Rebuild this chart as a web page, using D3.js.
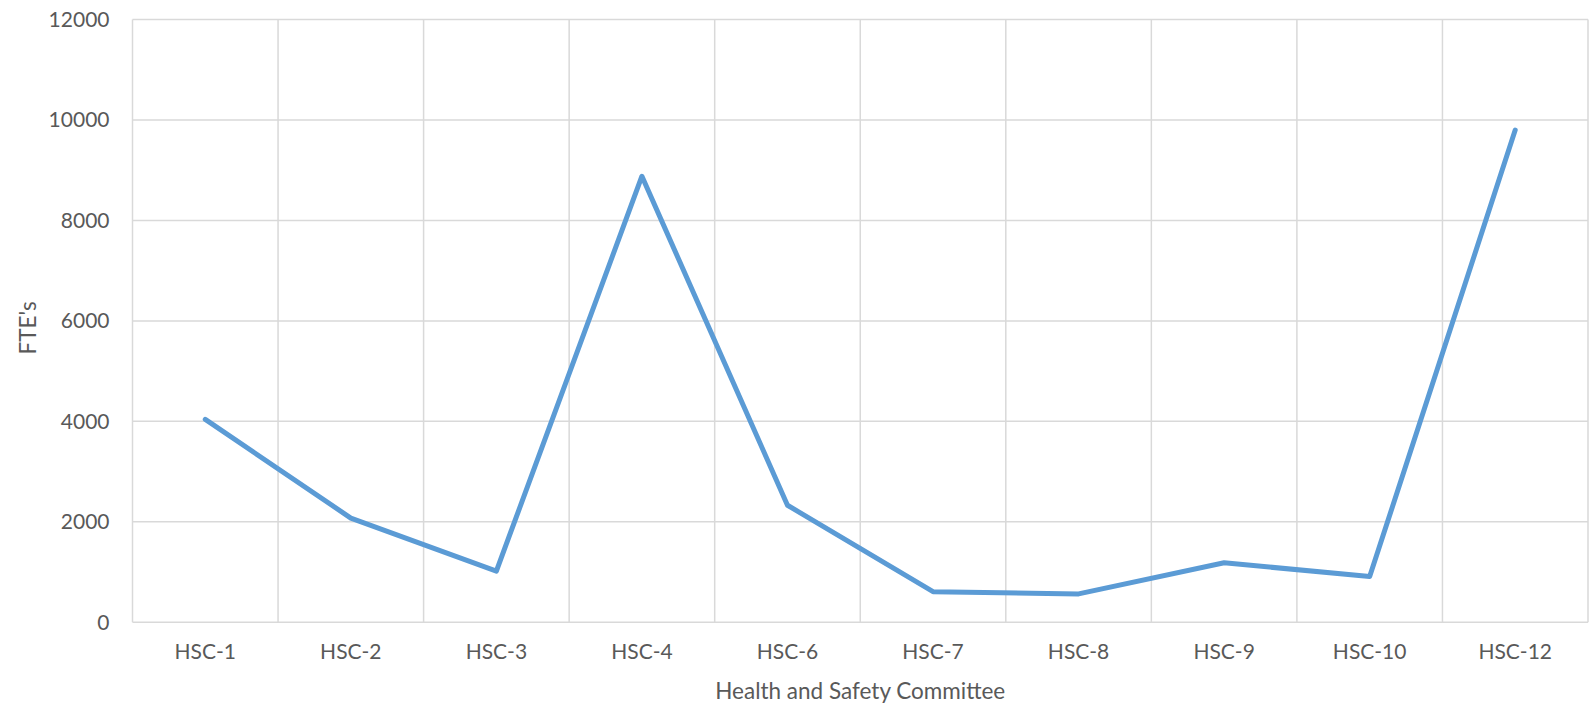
<!DOCTYPE html>
<html>
<head>
<meta charset="utf-8">
<script src="https://cdn.jsdelivr.net/npm/d3@7"></script>
<style>
  html, body { margin: 0; padding: 0; background: #fff; }
  svg text { font-family: "Lato", "Open Sans", sans-serif; fill: #595959; }
</style>
</head>
<body>
<svg id="chart" width="1593" height="708"></svg>
<script>
const categories = ["HSC-1", "HSC-2", "HSC-3", "HSC-4", "HSC-6", "HSC-7", "HSC-8", "HSC-9", "HSC-10", "HSC-12"];
const fteValues = [4040, 2075, 1020, 8880, 2330, 610, 565, 1185, 910, 9800];
const yTicks = [0, 2000, 4000, 6000, 8000, 10000, 12000];
const xTitle = "Health and Safety Committee";
const yTitle = "FTE's";

const svg = d3.select("#chart");
const margin = { left: 132.5, right: 1593 - 1588, top: 19.5, bottom: 708 - 622.3 };
const W = 1593, H = 708;

const x = d3.scaleBand().domain(categories).range([margin.left, W - margin.right]).padding(0);
const y = d3.scaleLinear().domain([0, 12000]).range([H - margin.bottom, margin.top]);

const grid = "#d9d9d9";

// horizontal gridlines
svg.append("g").selectAll("line").data(yTicks).join("line")
  .attr("x1", margin.left).attr("x2", W - margin.right)
  .attr("y1", d => y(d)).attr("y2", d => y(d))
  .attr("stroke", grid).attr("stroke-width", 1.5);

// vertical gridlines at category boundaries
const bounds = categories.map(c => x(c)).concat([x(categories[categories.length - 1]) + x.bandwidth()]);
svg.append("g").selectAll("line").data(bounds).join("line")
  .attr("x1", d => d).attr("x2", d => d)
  .attr("y1", margin.top).attr("y2", y(0))
  .attr("stroke", grid).attr("stroke-width", 1.5);

// y axis labels
const yAxis = d3.axisLeft(y).tickValues(yTicks).tickSize(0).tickPadding(23).tickFormat(d3.format("d"));
const gy = svg.append("g").attr("transform", `translate(${margin.left},0)`).call(yAxis);
gy.select(".domain").remove();
gy.selectAll("text").style("font-size", "21px").attr("fill", "#595959");

// x axis labels
const xAxis = d3.axisBottom(x).tickSize(0).tickPadding(22);
const gx = svg.append("g").attr("transform", `translate(0,${y(0)})`).call(xAxis);
gx.select(".domain").remove();
gx.selectAll("text").style("font-size", "21px").attr("fill", "#595959");

// line
const line = d3.line()
  .x((d, i) => x(categories[i]) + x.bandwidth() / 2)
  .y(d => y(d));
svg.append("path").datum(fteValues)
  .attr("d", line)
  .attr("fill", "none")
  .attr("stroke", "#5b9bd5")
  .attr("stroke-width", 5)
  .attr("stroke-linejoin", "round")
  .attr("stroke-linecap", "round");

// titles
svg.append("text")
  .attr("x", (margin.left + W - margin.right) / 2)
  .attr("y", 699)
  .attr("text-anchor", "middle")
  .style("font-size", "22.5px")
  .text(xTitle);

svg.append("text")
  .attr("transform", `translate(36,${(margin.top + y(0)) / 2 + 7}) rotate(-90)`)
  .attr("text-anchor", "middle")
  .style("font-size", "22.5px")
  .text(yTitle);
</script>
</body>
</html>
